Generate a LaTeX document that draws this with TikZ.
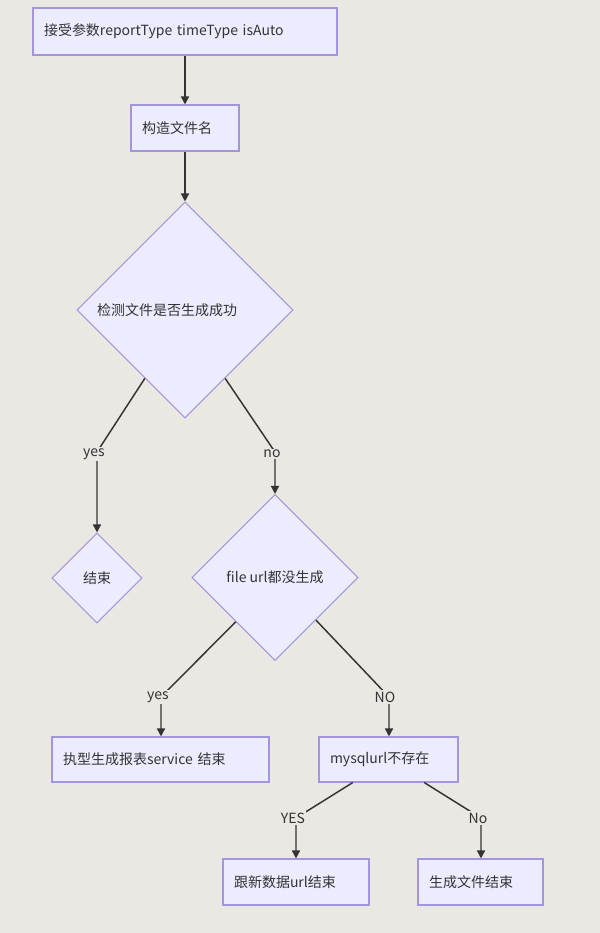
\documentclass[tikz,border=0pt]{standalone}
\usepackage{fontspec}
\setmainfont{Noto Sans CJK SC}
\usetikzlibrary{shapes.geometric,arrows.meta,calc}
\definecolor{bg}{HTML}{EAE8E3}
\definecolor{nodefill}{HTML}{ECECFF}
\definecolor{nodeline}{HTML}{A595DE}
\definecolor{ink}{HTML}{333333}
\tikzset{
  every node/.style={font=\fontsize{10.5pt}{12.6pt}\selectfont, text=ink},
  box/.style={draw=nodeline, fill=nodefill, line width=0.8pt, rectangle, align=left, inner xsep=8.25pt, inner ysep=0pt},
  dia/.style={draw=nodeline, fill=nodefill, line width=0.8pt, diamond, inner sep=0pt},
  edge/.style={draw=ink, line width=1.1pt, -{Triangle[length=6pt,width=6pt]}},
  lbl/.style={fill=bg, inner sep=1pt},
}
\begin{document}
\begin{tikzpicture}[x=0.75pt,y=-0.75pt]
\fill[bg] (0,0) rectangle (600,933);
\useasboundingbox (0,0) rectangle (600,933);

\node[box, text width=211.5pt, minimum height=35.25pt] (A) at (185,31.5) {接受参数reportType timeType isAuto};
\node[box, text width=64.5pt, minimum height=34.5pt] (B) at (185,128) {构造文件名};
\node[dia, minimum width=162pt, minimum height=162pt, label={[xshift=-13.5pt]center:检测文件是否生成成功}] (C) at (185,310) {};
\node[dia, minimum width=67.5pt, minimum height=67.5pt] (D) at (97,578) {结束};
\node[dia, minimum width=124.5pt, minimum height=124.5pt] (E) at (275,577.5) {file url都没生成};
\node[box, text width=146.25pt, minimum height=33.75pt] (F) at (160.5,759.5) {执型生成报表service 结束};
\node[box, text width=87.75pt, minimum height=33.75pt] (G) at (388.5,759.5) {mysqlurl不存在};
\node[box, text width=93pt, minimum height=34.5pt] (H) at (296,882) {跟新数据url结束};
\node[box, text width=77.25pt, minimum height=34.5pt] (I) at (480.5,882) {生成文件结束};

\coordinate (c1) at ($(C.south)!0.37!(C.west)$);
\coordinate (c2) at ($(C.south)!0.37!(C.east)$);
\coordinate (e1) at ($(E.south)!0.47!(E.west)$);
\coordinate (e2) at ($(E.south)!0.49!(E.east)$);
\coordinate (g1) at ($(G.south west)!0.245!(G.south east)$);
\coordinate (g2) at ($(G.south west)!0.755!(G.south east)$);
\coordinate (b1) at (97,452);
\coordinate (b2) at (275,452);
\coordinate (b3) at (161,697);
\coordinate (b4) at (389,697);
\coordinate (b5) at (296,818);
\coordinate (b6) at (481,818);

\draw[edge] (A) -- (B);
\draw[edge] (B) -- (C);
\draw[edge] (c1) -- (b1) -- (D.north);
\draw[edge] (c2) -- (b2) -- (E.north);
\draw[edge] (e1) -- (b3) -- (F.north -| b3);
\draw[edge] (e2) -- (b4) -- (G.north -| b4);
\draw[edge] (g1) -- (b5) -- (H.north);
\draw[edge] (g2) -- (b6) -- (I.north -| b6);

\node[lbl] (l1) at ($(b1)+(-3,2)$) {yes};
\node[lbl] (l2) at ($(b2)+(-3,2)$) {no};
\node[lbl] (l3) at ($(b3)+(-3,0)$) {yes};
\node[lbl] (l4) at ($(b4)+(-4,0)$) {NO};
\node[lbl] (l5) at ($(b5)+(-3,0)$) {YES};
\node[lbl] (l6) at ($(b6)+(-3,0)$) {No};
\end{tikzpicture}
\end{document}
